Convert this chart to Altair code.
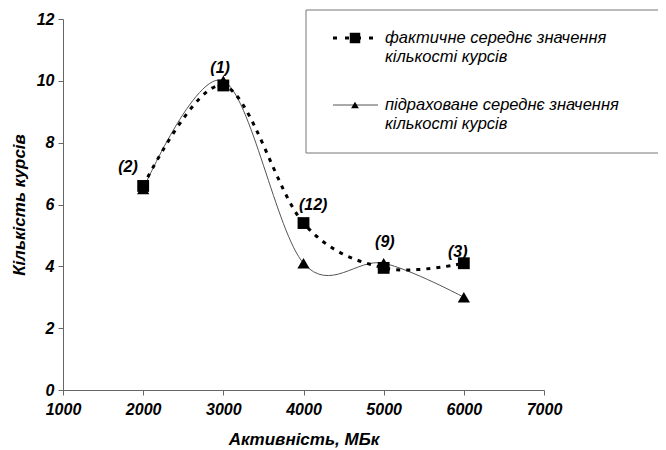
import altair as alt
import pandas as pd

# ---- data ----
activity = [2000, 3000, 4000, 5000, 6000]
actual_mean = [6.6, 9.85, 5.4, 3.95, 4.1]
calc_mean = [6.5, 10.0, 4.1, 4.1, 3.0]
point_labels = ["(2)", "(1)", "(12)", "(9)", "(3)"]
label_x = [1810, 2960, 4120, 5015, 5925]
label_y = [7.2, 10.4, 6.0, 4.8, 4.45]

x_ticks = [1000, 2000, 3000, 4000, 5000, 6000, 7000]
y_ticks = [0, 2, 4, 6, 8, 10, 12]

legend_actual = ["фактичне середнє значення", "кількості курсів"]
legend_calc = ["підраховане середнє значення", "кількості курсів"]

x_title = "Активність, МБк"
y_title = "Кількість курсів"

FONT = "Liberation Sans"

df = pd.DataFrame({"x": activity, "actual": actual_mean, "calc": calc_mean})
lab = pd.DataFrame({"x": label_x, "y": label_y, "t": point_labels})

xs = alt.Scale(domain=[1000, 7000], nice=False, zero=False)
ys = alt.Scale(domain=[0, 12], nice=False)

xaxis = alt.Axis(values=x_ticks, title=x_title, format="d", titlePadding=14, labelFlush=False,
                 labelPadding=6)
yaxis = alt.Axis(values=y_ticks, title=y_title, titlePadding=8, labelFlush=False)

base = alt.Chart(df)

calc_line = base.mark_line(interpolate="cardinal", color="#555555", strokeWidth=1).encode(
    x=alt.X("x:Q", scale=xs, axis=xaxis),
    y=alt.Y("calc:Q", scale=ys, axis=yaxis),
)
actual_line = base.mark_line(interpolate="cardinal", color="black", strokeWidth=3,
                             strokeDash=[4, 6]).encode(
    x=alt.X("x:Q", scale=xs), y=alt.Y("actual:Q", scale=ys)
)
squares = base.mark_point(shape="square", filled=True, color="black", size=140, opacity=1).encode(
    x=alt.X("x:Q", scale=xs), y=alt.Y("actual:Q", scale=ys)
)
triangles = base.mark_point(shape="triangle-up", filled=True, color="black", size=150, opacity=1).encode(
    x=alt.X("x:Q", scale=xs), y=alt.Y("calc:Q", scale=ys)
)
labels = alt.Chart(lab).mark_text(font=FONT, fontSize=16, fontWeight="bold", fontStyle="italic",
                                  color="black", align="center", baseline="middle").encode(
    x=alt.X("x:Q", scale=xs), y=alt.Y("y:Q", scale=ys), text="t:N"
)

one = alt.Data(values=[{"a": 1}])
legend_box = alt.Chart(one).mark_rect(fill="white", stroke="#777777", strokeWidth=1).encode(
    x=alt.value(243), x2=alt.value(640), y=alt.value(-9), y2=alt.value(134)
)
leg_dash = alt.Chart(one).mark_rule(color="black", strokeWidth=3, strokeDash=[4, 8]).encode(
    x=alt.value(270), x2=alt.value(313), y=alt.value(19)
)
leg_sq = alt.Chart(one).mark_point(shape="square", filled=True, color="black", size=110, opacity=1).encode(
    x=alt.value(292), y=alt.value(19)
)
leg_line = alt.Chart(one).mark_rule(color="#555555", strokeWidth=1).encode(
    x=alt.value(270), x2=alt.value(315), y=alt.value(86)
)
leg_tri = alt.Chart(one).mark_point(shape="triangle-up", filled=True, color="black", size=60, opacity=1).encode(
    x=alt.value(292), y=alt.value(86)
)

def leg_text(line, y):
    return alt.Chart(alt.Data(values=[{"t": line}])).mark_text(
        font=FONT, fontSize=16.5, fontStyle="italic", color="black",
        align="left", baseline="middle").encode(
        x=alt.value(322), y=alt.value(y), text="t:N"
    )

legend_texts = [
    leg_text(legend_actual[0], 19), leg_text(legend_actual[1], 38),
    leg_text(legend_calc[0], 86), leg_text(legend_calc[1], 105),
]

chart = alt.layer(
    calc_line, actual_line, squares, triangles, labels,
    legend_box, leg_dash, leg_sq, leg_line, leg_tri, *legend_texts
).properties(
    width=481, height=371,
    autosize=alt.AutoSizeParams(type="none"),
    padding={"left": 55, "top": 11, "right": 114, "bottom": 58},
).configure_view(stroke=None).configure_axis(
    grid=False, domainColor="#666666", tickColor="#666666", tickSize=5,
    labelFont=FONT, labelFontSize=16, labelFontWeight="bold", labelFontStyle="italic",
    labelColor="black", labelPadding=4,
    titleFont=FONT, titleFontSize=17, titleFontWeight="bold", titleFontStyle="italic",
    titleColor="black",
)

chart.save("out.html", embed_options={"renderer": "svg", "actions": False})
